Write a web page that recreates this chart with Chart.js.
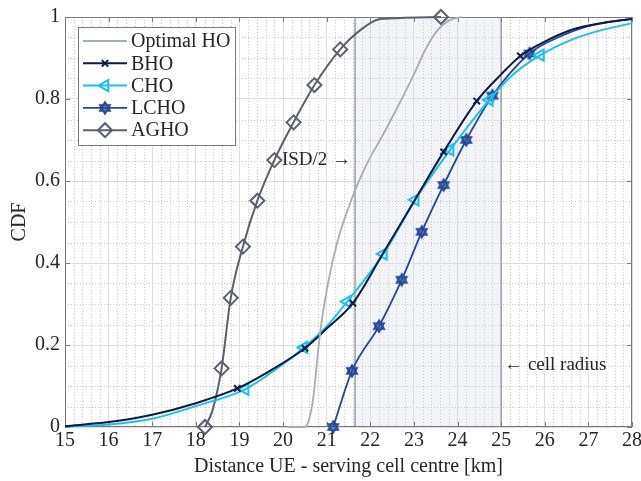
<!DOCTYPE html>
<html>
<head>
<meta charset="utf-8">
<script src="https://cdn.jsdelivr.net/npm/chart.js@4.4.0/dist/chart.umd.min.js"></script>
<style>
  html, body { margin: 0; padding: 0; background: #fff; }
  #wrap { width: 641px; height: 481px; }
</style>
</head>
<body>
<div id="wrap"><canvas id="cdfChart" width="641" height="481"></canvas></div>
<script>
// axis ticks
const xTicks = [15, 16, 17, 18, 19, 20, 21, 22, 23, 24, 25, 26, 27, 28];
const yTicks = [0, 0.2, 0.4, 0.6, 0.8, 1];

// reference distances [km]
const isdHalf = 21.65;
const cellRadius = 25;

// Optimal HO
const optimalX = [20.1, 20.5, 20.6, 20.69, 20.77, 20.85, 21.03, 21.24, 21.5, 21.7, 21.95, 22.25, 22.6, 23.0, 23.25, 23.52, 23.83, 24.1];
const optimalY = [0, 0, 0.02, 0.07, 0.15, 0.23, 0.35, 0.45, 0.535, 0.59, 0.648, 0.705, 0.775, 0.86, 0.918, 0.965, 0.993, 1.0];

// BHO
const bhoX = [15, 16, 17, 18, 18.95, 19.7, 20.5, 21.0, 21.6, 22.3, 23.0, 23.68, 24.44, 25.0, 25.44, 26, 26.65, 27.3, 28];
const bhoY = [0.002, 0.012, 0.03, 0.058, 0.094, 0.137, 0.192, 0.24, 0.302, 0.425, 0.55, 0.671, 0.795, 0.86, 0.905, 0.94, 0.97, 0.985, 0.995];
const bhoMarks = [4, 6, 8, 11, 12, 14];

// CHO
const choX = [15, 16, 17, 18, 19.13, 19.8, 20.48, 21.0, 21.47, 22.3, 23.03, 23.83, 24.73, 25.3, 25.9, 26.65, 27.3, 28];
const choY = [0.001, 0.006, 0.02, 0.051, 0.092, 0.138, 0.194, 0.245, 0.306, 0.422, 0.554, 0.676, 0.798, 0.862, 0.907, 0.946, 0.968, 0.985];
const choMarks = [4, 6, 8, 9, 10, 11, 12, 14];

// LCHO
const lchoX = [21.15, 21.58, 22.2, 22.72, 23.18, 23.68, 24.2, 24.8, 25.65, 26.3, 27, 28];
const lchoY = [0, 0.137, 0.246, 0.359, 0.476, 0.59, 0.70, 0.808, 0.911, 0.95, 0.978, 0.996];
const lchoMarks = [0, 1, 2, 3, 4, 5, 6, 7, 8];

// AGHO
const aghoX = [18.21, 18.38, 18.59, 18.8, 19.08, 19.41, 19.8, 20.24, 20.72, 21.31, 21.77, 22.22, 22.8, 23.62];
const aghoY = [0, 0.04, 0.143, 0.315, 0.44, 0.552, 0.651, 0.743, 0.834, 0.921, 0.968, 0.995, 0.998, 1.0];
const aghoMarks = [0, 2, 3, 4, 5, 6, 7, 8, 9, 13];

const FONT = "'Liberation Serif', 'DejaVu Serif', serif";
const TEXT = '#262626';

function toPoints(xs, ys) {
    return xs.map((x, i) => ({ x: x, y: ys[i] }));
}

function markerRadius(marks, r) {
    return function (ctx) {
        return marks.includes(ctx.dataIndex) ? r : 0;
    };
}

function hexagramImage(color, r) {
    let c = document.createElement('canvas');
    let s = Math.ceil(r * 2 + 4);
    c.width = s;
    c.height = s;
    let g = c.getContext('2d');
    g.strokeStyle = color;
    g.fillStyle = 'rgba(40, 80, 170, 0.45)';
    g.lineWidth = 1.6;
    g.lineJoin = 'miter';
    for (let t = 0; t < 2; t++) {
        g.beginPath();
        for (let k = 0; k < 3; k++) {
            let ang = -Math.PI / 2 + t * Math.PI + k * 2 * Math.PI / 3;
            let px = s / 2 + r * Math.cos(ang);
            let py = s / 2 + r * Math.sin(ang);
            if (k === 0) g.moveTo(px, py); else g.lineTo(px, py);
        }
        g.closePath();
        g.fill();
        g.stroke();
    }
    return c;
}

const hexImg = hexagramImage('#1f4596', 6);

const datasets = [{
    label: 'Optimal HO',
    data: toPoints(optimalX, optimalY),
    borderColor: '#a6adb9',
    borderWidth: 1.8,
    pointRadius: 0,
    pointStyle: false
}, {
    label: 'BHO',
    data: toPoints(bhoX, bhoY),
    borderColor: '#0c1a46',
    borderWidth: 2,
    pointStyle: 'crossRot',
    pointRadius: markerRadius(bhoMarks, 4.5),
    pointBorderWidth: 2,
    markerSize: 4.5
}, {
    label: 'CHO',
    data: toPoints(choX, choY),
    borderColor: '#17c2f2',
    borderWidth: 2,
    pointStyle: 'triangle',
    pointRotation: -90,
    pointRadius: markerRadius(choMarks, 6.5),
    pointBorderWidth: 2,
    markerSize: 6.5
}, {
    label: 'LCHO',
    data: toPoints(lchoX, lchoY),
    borderColor: '#22479a',
    borderWidth: 1.8,
    pointStyle: hexImg,
    pointRadius: markerRadius(lchoMarks, 6),
    markerSize: 6
}, {
    label: 'AGHO',
    data: toPoints(aghoX, aghoY),
    borderColor: '#58606e',
    borderWidth: 2,
    pointStyle: 'rectRot',
    pointRadius: markerRadius(aghoMarks, 7),
    pointBorderWidth: 2,
    markerSize: 7
}];

datasets.forEach(function (d) {
    d.pointBorderColor = d.borderColor;
    d.pointBackgroundColor = 'rgba(0,0,0,0)';
    d.pointHoverRadius = 0;
    d.cubicInterpolationMode = 'monotone';
    d.fill = false;
    d.clip = false;
});

const backdrop = {
    id: 'backdrop',
    beforeDraw(chart) {
        let ctx = chart.ctx;
        let a = chart.chartArea;
        let x = chart.scales.x, y = chart.scales.y;
        let x1 = x.getPixelForValue(isdHalf), x2 = x.getPixelForValue(cellRadius);
        ctx.save();
        ctx.fillStyle = '#f2f4f7';
        ctx.fillRect(x1, a.top, x2 - x1, a.bottom - a.top);
        // minor grid
        ctx.strokeStyle = '#cbcbcb';
        ctx.lineWidth = 1;
        ctx.setLineDash([1, 2]);
        for (let k = 1; k < 65; k++) {
            if (k % 5 === 0) continue;
            let px = Math.round(x.getPixelForValue(15 + k * 0.2)) + 0.5;
            ctx.beginPath();
            ctx.moveTo(px, a.top);
            ctx.lineTo(px, a.bottom);
            ctx.stroke();
        }
        for (let k = 1; k < 20; k++) {
            if (k % 4 === 0) continue;
            let py = Math.round(y.getPixelForValue(k * 0.05)) + 0.5;
            ctx.beginPath();
            ctx.moveTo(a.left, py);
            ctx.lineTo(a.right, py);
            ctx.stroke();
        }
        ctx.restore();
    },
    beforeDatasetsDraw(chart) {
        let ctx = chart.ctx;
        let a = chart.chartArea;
        let x = chart.scales.x, y = chart.scales.y;
        ctx.save();
        // reference lines
        ctx.strokeStyle = '#9ca4b0';
        ctx.lineWidth = 1.6;
        [isdHalf, cellRadius].forEach(function (v) {
            let px = x.getPixelForValue(v);
            ctx.beginPath();
            ctx.moveTo(px, a.top);
            ctx.lineTo(px, a.bottom);
            ctx.stroke();
        });
        // axes box
        ctx.strokeStyle = '#7a7a7a';
        ctx.lineWidth = 1;
        ctx.strokeRect(a.left + 0.5, a.top + 0.5, a.right - a.left - 1, a.bottom - a.top - 1);
        // inward ticks
        ctx.beginPath();
        xTicks.forEach(function (v) {
            let px = Math.round(x.getPixelForValue(v)) + 0.5;
            ctx.moveTo(px, a.bottom); ctx.lineTo(px, a.bottom - 5);
            ctx.moveTo(px, a.top); ctx.lineTo(px, a.top + 5);
        });
        yTicks.forEach(function (v) {
            let py = Math.round(y.getPixelForValue(v)) + 0.5;
            ctx.moveTo(a.left, py); ctx.lineTo(a.left + 5, py);
            ctx.moveTo(a.right, py); ctx.lineTo(a.right - 5, py);
        });
        ctx.stroke();
        // annotations
        ctx.fillStyle = TEXT;
        ctx.font = '19px ' + FONT;
        ctx.textBaseline = 'middle';
        ctx.textAlign = 'right';
        ctx.fillText('ISD/2 \u2192', x.getPixelForValue(isdHalf) - 4, y.getPixelForValue(0.651));
        ctx.textAlign = 'left';
        ctx.fillText('\u2190 cell radius', x.getPixelForValue(cellRadius) + 3, y.getPixelForValue(0.151));
        ctx.restore();
    },
    afterDraw(chart) {
        let ctx = chart.ctx;
        let a = chart.chartArea;
        let bx = a.left + 13, by = a.top + 10, bw = 157, bh = 118;
        ctx.save();
        ctx.fillStyle = '#ffffff';
        ctx.fillRect(bx, by, bw, bh);
        ctx.strokeStyle = '#7a7a7a';
        ctx.lineWidth = 1;
        ctx.strokeRect(bx + 0.5, by + 0.5, bw, bh);
        ctx.font = '20px ' + FONT;
        ctx.textBaseline = 'middle';
        ctx.textAlign = 'left';
        chart.data.datasets.forEach(function (d, i) {
            let ry = by + 14 + i * 22.3;
            ctx.strokeStyle = d.borderColor;
            ctx.lineWidth = d.borderWidth;
            ctx.beginPath();
            ctx.moveTo(bx + 5, ry);
            ctx.lineTo(bx + 49, ry);
            ctx.stroke();
            if (d.pointStyle) {
                ctx.fillStyle = 'rgba(0,0,0,0)';
                ctx.lineWidth = d.pointBorderWidth || 2;
                Chart.helpers.drawPoint(ctx, {
                    pointStyle: d.pointStyle,
                    rotation: d.pointRotation || 0,
                    radius: d.markerSize,
                    borderWidth: d.pointBorderWidth || 2
                }, bx + 27, ry);
            }
            ctx.fillStyle = TEXT;
            ctx.fillText(d.label, bx + 53, ry + 1);
        });
        ctx.restore();
    }
};

const ctx = document.getElementById('cdfChart').getContext('2d');
const cdfChart = new Chart(ctx, {
    type: 'line',
    data: { datasets: datasets },
    options: {
        responsive: false,
        animation: false,
        devicePixelRatio: 1,
        layout: { padding: { top: 17, right: 9, left: 0, bottom: 0 } },
        plugins: { legend: { display: false }, tooltip: { enabled: false } },
        scales: {
            x: {
                type: 'linear',
                min: 15,
                max: 28,
                afterBuildTicks: function (scale) { scale.ticks = xTicks.map(v => ({ value: v })); },
                afterFit: function (scale) { scale.height = 54; scale.paddingLeft = 0; scale.paddingRight = 0; },
                ticks: { color: TEXT, font: { family: FONT, size: 20 }, padding: 2, maxRotation: 0, autoSkip: false, callback: v => String(v) },
                grid: { color: '#dedede', drawTicks: false },
                border: { display: false },
                title: { display: true, text: 'Distance UE - serving cell centre [km]', color: TEXT, font: { family: FONT, size: 20 }, padding: { top: 0, bottom: 2 } }
            },
            y: {
                type: 'linear',
                min: 0,
                max: 1,
                afterBuildTicks: function (scale) { scale.ticks = yTicks.map(v => ({ value: v })); },
                afterFit: function (scale) { scale.width = 65; scale.paddingTop = 0; scale.paddingBottom = 0; },
                ticks: { color: TEXT, font: { family: FONT, size: 20 }, padding: 5, callback: v => String(v) },
                grid: { color: '#dedede', drawTicks: false },
                border: { display: false },
                title: { display: true, text: 'CDF', color: TEXT, font: { family: FONT, size: 20 }, padding: { top: 8, bottom: 0 } }
            }
        }
    },
    plugins: [backdrop]
});
</script>
</body>
</html>
